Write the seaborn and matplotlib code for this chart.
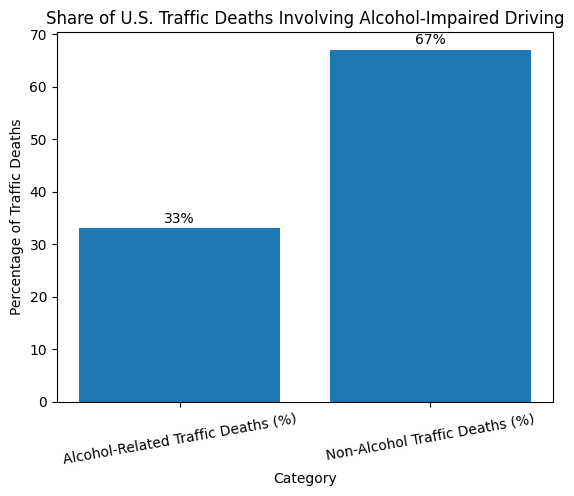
import matplotlib
matplotlib.use("Agg")
import matplotlib.pyplot as plt
import seaborn as sns
import pandas as pd

categories = ["Alcohol-Related Traffic Deaths (%)", "Non-Alcohol Traffic Deaths (%)"]
shares = [33, 67]

data = pd.DataFrame({"Category": categories, "Share": shares})

fig, ax = plt.subplots(figsize=(5.74, 4.96), dpi=100)
sns.barplot(x="Category", y="Share", data=data, color="#1f77b4", saturation=1, width=0.8, ax=ax)
for c in ax.containers:
    ax.bar_label(c, labels=[f"{v}%" for v in shares], padding=2)
ax.set_xlim(-0.49, 1.49)
ax.set_ylim(0, 70.35)
ax.set_title("Share of U.S. Traffic Deaths Involving Alcohol-Impaired Driving")
ax.set_ylabel("Percentage of Traffic Deaths")
ax.set_xlabel("Category")
plt.xticks(rotation=10)
plt.subplots_adjust(left=0.099, right=0.964, top=0.935, bottom=0.19)
plt.savefig("out.png", dpi=100)
